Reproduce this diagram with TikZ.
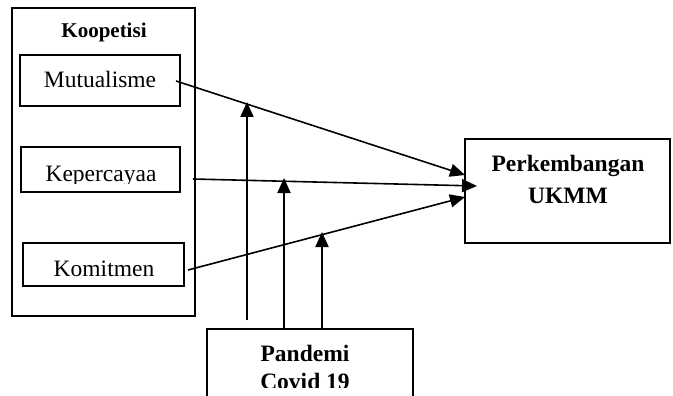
\documentclass[tikz,border=0pt]{standalone}
\usepackage{fontspec}
\setmainfont{Liberation Serif}
\usetikzlibrary{arrows.meta}
\begin{document}
\begin{tikzpicture}[x=1pt,y=-1pt,
  frame/.style={draw, line width=1.5pt, inner sep=0pt},
  plain/.style={font=\fontsize{23.5}{26}\selectfont, inner sep=0pt, anchor=base},
  heading/.style={font=\fontsize{23.5}{26}\selectfont\bfseries, inner sep=0pt, anchor=base},
  small heading/.style={font=\fontsize{21}{24}\selectfont\bfseries, inner sep=0pt, anchor=base},
  tip/.style={-{Triangle[length=15pt,width=13pt]}},
  link/.style={line width=1.6pt, tip},
  rise/.style={line width=2pt, tip}]
\useasboundingbox (0,0) rectangle (673,396);
\clip (0,0) rectangle (673,396);

% boxes
\node[frame, minimum width=183, minimum height=308] (koop) at (103.5,162) {};
\node[frame, minimum width=160, minimum height=51] (mut) at (100,80.5) {};
\node[frame, minimum width=159, minimum height=45] (kep) at (100.5,169.5) {};
\node[frame, minimum width=161, minimum height=43] (kom) at (103.5,264.5) {};
\node[frame, minimum width=205, minimum height=104] (perk) at (567.5,191) {};
\node[frame, minimum width=206, minimum height=81] (pand) at (310,369.5) {};

% labels
\node[small heading] (tkoop) at (104,37.7) {Koopetisi};
\node[plain] (tmut) at (100,87.3) {Mutualisme};
\begin{scope}
  \clip (22,150) rectangle (178,183);
  \node[plain] (tkep) at (101,182) {Kepercayaa};
\end{scope}
\node[plain] (tkom) at (104,276) {Komitmen};
\node[heading] (tperk1) at (568,171.7) {Perkembangan};
\node[heading] (tperk2) at (568,203) {UKMM};
\node[heading] (tpand1) at (305,361.7) {Pandemi};
\begin{scope}
  \clip (210,340) rectangle (410,387);
  \node[heading] (tpand2) at (305,389) {Covid 19};
\end{scope}

% connector end points
\coordinate (m0) at (176,81);
\coordinate (m1) at (465,175);
\coordinate (k0) at (193,179);
\coordinate (k1) at (477,186);
\coordinate (c0) at (188,270);
\coordinate (c1) at (465,197);
\coordinate (r1a) at (247,320);
\coordinate (r1b) at (247,102);
\coordinate (r2a) at (284,329);
\coordinate (r2b) at (284,178);
\coordinate (r3a) at (322,329);
\coordinate (r3b) at (322,232);

% paths into the outcome box
\draw[link] (m0) -- (m1);
\draw[link] (k0) -- (k1);
\draw[link] (c0) -- (c1);

% moderating effects
\draw[rise] (r1a) -- (r1b);
\draw[rise] (r2a) -- (r2b);
\draw[rise] (r3a) -- (r3b);
\end{tikzpicture}
\end{document}
